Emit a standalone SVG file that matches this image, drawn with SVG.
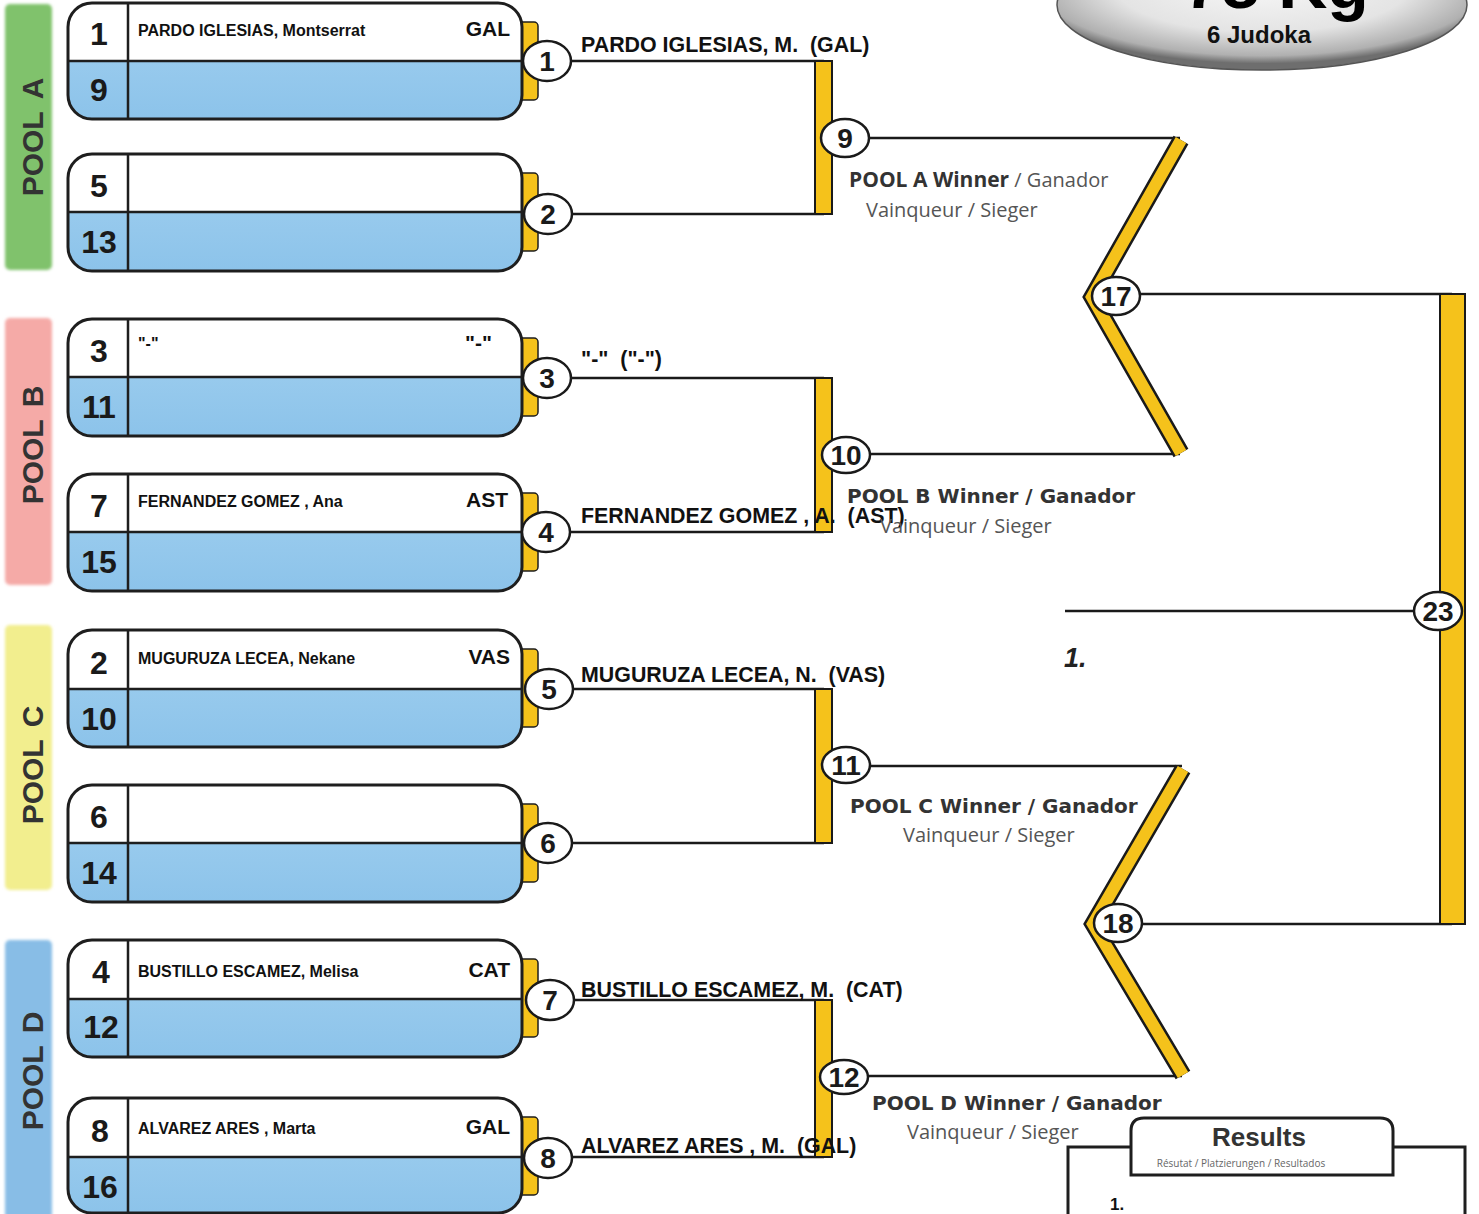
<svg xmlns="http://www.w3.org/2000/svg" width="1479" height="1214" viewBox="0 0 1479 1214">
<defs>
<radialGradient id="gTitle" cx="50%" cy="35%" r="60%">
<stop offset="0" stop-color="#f7f7f7"/><stop offset="0.6" stop-color="#e4e4e4"/><stop offset="0.9" stop-color="#b0b0b0"/><stop offset="1" stop-color="#6e6e6e"/>
</radialGradient>
<linearGradient id="gBlue" x1="0" y1="0" x2="0" y2="1">
<stop offset="0" stop-color="#a3d1f0"/><stop offset="1" stop-color="#8cc3ea"/>
</linearGradient>
<filter id="soft" x="-10%" y="-5%" width="120%" height="110%"><feGaussianBlur stdDeviation="1.6"/></filter>
<style>
.bx{fill:url(#gBlue);stroke:none}
.wt{fill:#fff}
.ol{fill:none;stroke:#1e1e1e;stroke-width:3}
.dv{stroke:#1e1e1e;stroke-width:2.5;fill:none}
.tab{fill:#f5c21b;stroke:#1e1e1e;stroke-width:1.5}
.seed{font-family:"Liberation Sans",Arial,sans-serif;font-weight:bold;font-size:32px;fill:#1a1a1a;text-anchor:middle}
.nm{font-family:"Liberation Sans",Arial,sans-serif;font-weight:bold;font-size:16px;fill:#111}
.cl{font-family:"Liberation Sans",Arial,sans-serif;font-weight:bold;font-size:21px;fill:#111;text-anchor:end}
.out{font-family:"Liberation Sans",Arial,sans-serif;font-weight:bold;font-size:21.4px;fill:#111;white-space:pre}
.ln{stroke:#1a1a1a;stroke-width:2.5;fill:none}
.bar{fill:#f5c21b;stroke:#1a1a1a;stroke-width:2}
.zzo{fill:none;stroke:#1a1a1a;stroke-width:17;stroke-linejoin:miter}
.zzi{fill:none;stroke:#f5c21b;stroke-width:12;stroke-linejoin:miter}
.mc ellipse{fill:#fff;stroke:#1a1a1a;stroke-width:2.5}
.mc text{font-family:"Liberation Sans",Arial,sans-serif;font-weight:bold;font-size:28px;fill:#1a1a1a;text-anchor:middle}
.pool{font-family:"Liberation Sans",Arial,sans-serif;font-weight:bold;font-size:30px;fill:#333;text-anchor:middle}
.wb{font-family:"DejaVu Sans",Verdana,sans-serif;font-weight:bold;font-size:20px;fill:#333}
.wa{font-family:"Open Sans",sans-serif;font-weight:bold;font-size:21px;fill:#333}
.wr{font-family:"Open Sans",sans-serif;font-weight:normal;font-size:20px;fill:#555}
</style>
</defs>
<rect width="1479" height="1214" fill="#fff"/>

<g id="title">
<ellipse cx="1262" cy="5" rx="205" ry="65" fill="url(#gTitle)" stroke="#555" stroke-width="1.5"/>
<text x="1265" y="8" font-family="Liberation Sans,Arial,sans-serif" font-weight="bold" font-size="68" fill="#000" text-anchor="middle">-78 Kg</text>
<text x="1259" y="43" font-family="Liberation Sans,Arial,sans-serif" font-weight="bold" font-size="24" fill="#111" text-anchor="middle">6 Judoka</text>
</g>

<g id="pools">
<g id="poolA"><rect x="5" y="4" width="47" height="266" rx="5" fill="#80c26c" filter="url(#soft)"/><text class="pool" transform="translate(43,137) rotate(-90)"><tspan>POOL</tspan><tspan dx="12">A</tspan></text></g>
<g id="poolB"><rect x="5" y="318" width="47" height="267" rx="5" fill="#f5aaa7" filter="url(#soft)"/><text class="pool" transform="translate(43,445) rotate(-90)"><tspan>POOL</tspan><tspan dx="12">B</tspan></text></g>
<g id="poolC"><rect x="5" y="625" width="47" height="265" rx="5" fill="#f2ee8e" filter="url(#soft)"/><text class="pool" transform="translate(43,765) rotate(-90)"><tspan>POOL</tspan><tspan dx="12">C</tspan></text></g>
<g id="poolD"><rect x="5" y="940" width="47" height="280" rx="5" fill="#88bde6" filter="url(#soft)"/><text class="pool" transform="translate(43,1071) rotate(-90)"><tspan>POOL</tspan><tspan dx="12">D</tspan></text></g>
</g>

<g id="connectors">
<path class="ln" d="M547,61 H824 M548,214 H824 M845,138 H1180 M846,454 H1180"/>
<path class="ln" d="M547,378 H824 M546,532 H824 M549,689 H824 M548,843 H824"/>
<path class="ln" d="M550,1000 H824 M548,1157 H824 M846,766 H1182 M844,1076 H1182"/>
<path class="ln" d="M1116,294 H1452 M1118,924 H1452 M1065,611 H1438"/>
<rect class="bar" x="815" y="61" width="17" height="153"/>
<rect class="bar" x="815" y="378" width="17" height="154"/>
<rect class="bar" x="815" y="689" width="17" height="154"/>
<rect class="bar" x="815" y="1000" width="17" height="157"/>
<rect class="bar" x="1440" y="294" width="25" height="630"/>
<polyline class="zzo" points="1181,140 1092,297 1181,453"/>
<polyline class="zzi" points="1181,140 1092,297 1181,453"/>
<polyline class="zzo" points="1183,769 1093,924 1183,1075"/>
<polyline class="zzi" points="1183,769 1093,924 1183,1075"/>
</g>

<g id="entry1">
<rect class="tab" x="514" y="22" width="24" height="78" rx="4"/>
<rect class="bx" x="68" y="3" width="454" height="116" rx="24"/>
<path class="wt" d="M68,61 V27 A24,24 0 0 1 92,3 H498 A24,24 0 0 1 522,27 V61 Z"/>
<path class="dv" d="M68,61 H522 M128,3 V119"/>
<rect class="ol" x="68" y="3" width="454" height="116" rx="24"/>
<text class="seed" x="99" y="45">1</text><text class="seed" x="99" y="101">9</text>
<text class="nm" x="138" y="36">PARDO IGLESIAS, Montserrat</text><text class="cl" x="510" y="36">GAL</text>
</g>
<g id="entry2">
<rect class="tab" x="514" y="173" width="24" height="78" rx="4"/>
<rect class="bx" x="68" y="154" width="454" height="117" rx="24"/>
<path class="wt" d="M68,212 V178 A24,24 0 0 1 92,154 H498 A24,24 0 0 1 522,178 V212 Z"/>
<path class="dv" d="M68,212 H522 M128,154 V271"/>
<rect class="ol" x="68" y="154" width="454" height="117" rx="24"/>
<text class="seed" x="99" y="197">5</text><text class="seed" x="99" y="253">13</text>
</g>
<g id="entry3">
<rect class="tab" x="514" y="338" width="24" height="78" rx="4"/>
<rect class="bx" x="68" y="319" width="454" height="117" rx="24"/>
<path class="wt" d="M68,377 V343 A24,24 0 0 1 92,319 H498 A24,24 0 0 1 522,343 V377 Z"/>
<path class="dv" d="M68,377 H522 M128,319 V436"/>
<rect class="ol" x="68" y="319" width="454" height="117" rx="24"/>
<text class="seed" x="99" y="362">3</text><text class="seed" x="99" y="418">11</text>
<text class="nm" x="138" y="349">"-"</text><text class="cl" x="492" y="350">"-"</text>
</g>
<g id="entry4">
<rect class="tab" x="514" y="493" width="24" height="78" rx="4"/>
<rect class="bx" x="68" y="474" width="454" height="117" rx="24"/>
<path class="wt" d="M68,532 V498 A24,24 0 0 1 92,474 H498 A24,24 0 0 1 522,498 V532 Z"/>
<path class="dv" d="M68,532 H522 M128,474 V591"/>
<rect class="ol" x="68" y="474" width="454" height="117" rx="24"/>
<text class="seed" x="99" y="517">7</text><text class="seed" x="99" y="573">15</text>
<text class="nm" x="138" y="507">FERNANDEZ GOMEZ , Ana</text><text class="cl" x="508" y="507">AST</text>
</g>
<g id="entry5">
<rect class="tab" x="514" y="649" width="24" height="78" rx="4"/>
<rect class="bx" x="68" y="630" width="454" height="117" rx="24"/>
<path class="wt" d="M68,689 V654 A24,24 0 0 1 92,630 H498 A24,24 0 0 1 522,654 V689 Z"/>
<path class="dv" d="M68,689 H522 M128,630 V747"/>
<rect class="ol" x="68" y="630" width="454" height="117" rx="24"/>
<text class="seed" x="99" y="674">2</text><text class="seed" x="99" y="730">10</text>
<text class="nm" x="138" y="664">MUGURUZA LECEA, Nekane</text><text class="cl" x="510" y="664">VAS</text>
</g>
<g id="entry6">
<rect class="tab" x="514" y="804" width="24" height="78" rx="4"/>
<rect class="bx" x="68" y="785" width="454" height="117" rx="24"/>
<path class="wt" d="M68,843 V809 A24,24 0 0 1 92,785 H498 A24,24 0 0 1 522,809 V843 Z"/>
<path class="dv" d="M68,843 H522 M128,785 V902"/>
<rect class="ol" x="68" y="785" width="454" height="117" rx="24"/>
<text class="seed" x="99" y="828">6</text><text class="seed" x="99" y="884">14</text>
</g>
<g id="entry7">
<rect class="tab" x="514" y="959" width="24" height="78" rx="4"/>
<rect class="bx" x="68" y="940" width="454" height="117" rx="24"/>
<path class="wt" d="M68,999 V964 A24,24 0 0 1 92,940 H498 A24,24 0 0 1 522,964 V999 Z"/>
<path class="dv" d="M68,999 H522 M128,940 V1057"/>
<rect class="ol" x="68" y="940" width="454" height="117" rx="24"/>
<text class="seed" x="101" y="983">4</text><text class="seed" x="101" y="1038">12</text>
<text class="nm" x="138" y="977">BUSTILLO ESCAMEZ, Melisa</text><text class="cl" x="510" y="977">CAT</text>
</g>
<g id="entry8">
<rect class="tab" x="514" y="1117" width="24" height="78" rx="4"/>
<rect class="bx" x="68" y="1098" width="454" height="115" rx="24"/>
<path class="wt" d="M68,1157 V1122 A24,24 0 0 1 92,1098 H498 A24,24 0 0 1 522,1122 V1157 Z"/>
<path class="dv" d="M68,1157 H522 M128,1098 V1213"/>
<rect class="ol" x="68" y="1098" width="454" height="115" rx="24"/>
<text class="seed" x="100" y="1142">8</text><text class="seed" x="100" y="1198">16</text>
<text class="nm" x="138" y="1134">ALVAREZ ARES , Marta</text><text class="cl" x="510" y="1134">GAL</text>
</g>

<g id="matches" class="mc">
<g id="m1"><ellipse cx="547" cy="61" rx="24" ry="20"/><text x="547" y="71">1</text></g>
<g id="m2"><ellipse cx="548" cy="214" rx="24" ry="20"/><text x="548" y="224">2</text></g>
<g id="m3"><ellipse cx="547" cy="378" rx="24" ry="20"/><text x="547" y="388">3</text></g>
<g id="m4"><ellipse cx="546" cy="532" rx="24" ry="20"/><text x="546" y="542">4</text></g>
<g id="m5"><ellipse cx="549" cy="689" rx="24" ry="20"/><text x="549" y="699">5</text></g>
<g id="m6"><ellipse cx="548" cy="843" rx="24" ry="20"/><text x="548" y="853">6</text></g>
<g id="m7"><ellipse cx="550" cy="1000" rx="24" ry="20"/><text x="550" y="1010">7</text></g>
<g id="m8"><ellipse cx="548" cy="1158" rx="24" ry="20"/><text x="548" y="1168">8</text></g>
<g id="m9"><ellipse cx="845" cy="138" rx="24" ry="19"/><text x="845" y="148">9</text></g>
<g id="m10"><ellipse cx="846" cy="455" rx="24" ry="18"/><text x="846" y="465">10</text></g>
<g id="m11"><ellipse cx="846" cy="765" rx="24" ry="18"/><text x="846" y="775">11</text></g>
<g id="m12"><ellipse cx="844" cy="1077" rx="24" ry="17"/><text x="844" y="1087">12</text></g>
<g id="m17"><ellipse cx="1116" cy="296" rx="24" ry="19"/><text x="1116" y="306">17</text></g>
<g id="m18"><ellipse cx="1118" cy="923" rx="24" ry="19"/><text x="1118" y="933">18</text></g>
<g id="m23"><ellipse cx="1438" cy="611" rx="24" ry="19"/><text x="1438" y="621">23</text></g>
</g>

<g id="advancers">
<text class="out" x="581" y="52">PARDO IGLESIAS, M.  (GAL)</text>
<text class="out" x="581" y="366">"-"  ("-")</text>
<text class="out" x="581" y="523">FERNANDEZ GOMEZ , A.  (AST)</text>
<text class="out" x="581" y="682">MUGURUZA LECEA, N.  (VAS)</text>
<text class="out" x="581" y="997">BUSTILLO ESCAMEZ, M.  (CAT)</text>
<text class="out" x="581" y="1153">ALVAREZ ARES , M.  (GAL)</text>
</g>

<g id="winners">
<text x="849" y="187"><tspan class="wa">POOL A Winner</tspan><tspan class="wr"> / Ganador</tspan></text>
<text class="wr" x="866" y="217">Vainqueur / Sieger</text>
<text class="wb" x="847" y="503">POOL B Winner / Ganador</text>
<text class="wr" x="880" y="533">Vainqueur / Sieger</text>
<text class="wb" x="850" y="813">POOL C Winner / Ganador</text>
<text class="wr" x="903" y="842">Vainqueur / Sieger</text>
<text class="wb" x="872" y="1110">POOL D Winner / Ganador</text>
<text class="wr" x="907" y="1139">Vainqueur / Sieger</text>
<text x="1064" y="667" font-family="Liberation Sans,Arial,sans-serif" font-weight="bold" font-style="italic" font-size="27" fill="#222">1.</text>
</g>

<g id="results">
<path d="M1068,1214 V1147 H1131 M1393,1147 H1465 V1214" fill="none" stroke="#1e1e1e" stroke-width="3"/>
<path d="M1131,1175 V1131 Q1131,1118 1144,1118 H1380 Q1393,1118 1393,1131 V1175 Z" fill="#fff" stroke="#1e1e1e" stroke-width="3"/>
<text x="1259" y="1146" font-family="Liberation Sans,Arial,sans-serif" font-weight="bold" font-size="26" fill="#333" text-anchor="middle">Results</text>
<text x="1241" y="1167" font-family="Open Sans,sans-serif" font-size="10" fill="#666" text-anchor="middle">Résutat / Platzierungen / Resultados</text>
<text x="1110" y="1210" font-family="Liberation Sans,Arial,sans-serif" font-weight="bold" font-size="17" fill="#111">1.</text>
</g>
</svg>
